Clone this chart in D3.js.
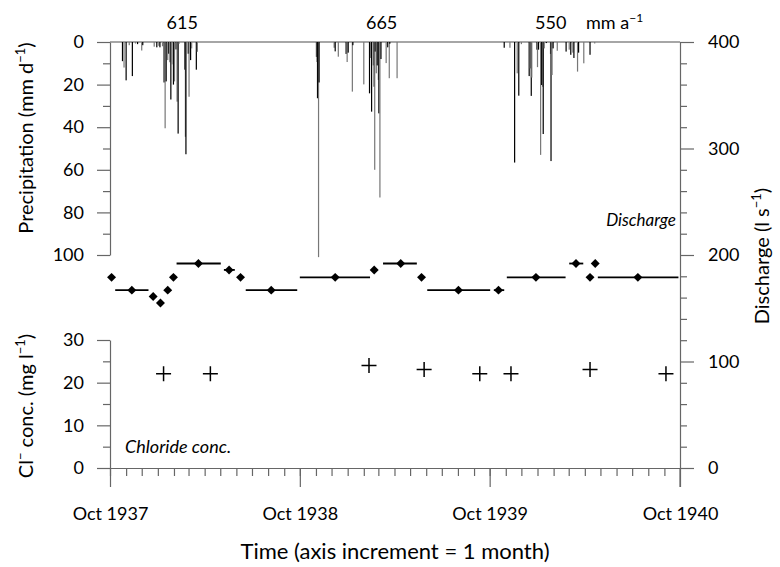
<!DOCTYPE html>
<html><head><meta charset="utf-8">
<script src="https://cdn.jsdelivr.net/npm/d3@7"></script>
<style>body{margin:0;background:#fff}svg{display:block}text{font-family:Lato,"Open Sans",sans-serif}</style>
</head><body><svg id="c" width="780" height="567"></svg>
<script>
// ---- data (days counted from 1 Oct 1937) ----
const precipDay = [24,27,31,37,43,49,53,61,63,85,90,94,96,101,104,106,108,111,113,115,117,119,122,124,127,129,131,133,144,145,146,148,151,152,155,157,166,168,
  397,398,399,401,402,431,433,439,454,456,458,466,467,488,499,501,503,506,508,509,510,512,514,516,517,519,521,531,534,537,538,552,
  758,769,778,783,786,791,806,808,810,811,821,822,824,828,830,832,833,835,839,847,848,850,852,860,877,883,886,890,892,899,901,911,923,932];
const precipMM = [9,12,18,1.5,16,0.7,1,4,1.5,2.2,2.5,1.8,2.5,2,19,40.5,18.5,8.5,5.5,9.5,27,10.5,20,18.5,3.5,28,43,0.8,13,44.5,52.7,5.5,5.5,25.7,8.5,3,13,4.6,
  7,9.4,26.4,101,19,2.7,4.4,6.9,5.6,9.4,5,23.3,1.5,19.9,24.1,7.5,32.7,11,21,60,4.5,14.7,11,17.8,33.5,73,8,9.9,2.5,17,0.8,17,
  2.7,2.7,56.6,14.7,25.2,1,16,12.4,25.3,16.7,3.6,11.8,3.6,53,20.2,21,43.2,3,0.5,5.6,55.9,15.5,3,4.1,4.5,3.6,6,5,7.5,13.9,5,10,6,0.7];

const dischargeDay   = [3,42,83,97,111,122,170,229,251,310,433,508,559,599,670,747,819,896,923,933,1015];
const dischargeValue = [179,167,161,155,167,179,192,186,179,167,179,186,192,179,167,167,179,192,179,192,179];
const periodStart    = [null,10,null,null,null,null,128,219,null,261,365,null,525,null,610,738,763,883,null,null,938];
const periodEnd      = [null,74,null,null,null,null,213,240,null,360,500,null,590,null,731,758,876,910,null,null,1093];

const chlorideDay   = [103,193,498,604,711,771,923,1069];
const chlorideValue = [22.1,22.1,24,23.1,22.1,22.1,23.1,22.1];

const annualTotals = ["615","665","550"];
const annualMid    = [1937.75+0.38, 1938.75+0.43, 1939.75+0.32];
const precipTicks = [0,20,40,60,80,100], precipMinor=[10,30,50,70,90];
const dischargeTicks = [0,100,200,300,400];
const chlorideTicks = [0,10,20,30], chlorideMinor=[5,15,25];
const yearTicks = [1937,1938,1939,1940];

// ---- layout ----
const svg = d3.select("#c");
const L=110, R=680, T=42;
const start = new Date(1937,9,1), end = new Date(1940,9,1);
const x = d3.scaleTime().domain([start,end]).range([L,R]);
const day = d => d3.timeDay.offset(start, d);
const yP = d3.scaleLinear().domain([0,100]).range([T,255]);
const yQ = d3.scaleLinear().domain([0,400]).range([468,T]);
const yC = d3.scaleLinear().domain([0,30]).range([468,340]);
const axisCol="#666";
const FS = 18;

function styleAxis(g, fs){
  g.selectAll(".domain").attr("stroke",axisCol).attr("stroke-width",1.2);
  g.selectAll(".tick line").attr("stroke",axisCol).attr("stroke-width",1.2);
  g.selectAll("text").attr("fill","#000").style("font-size",(fs||FS)+"px").style("font-family","Lato");
}

// top frame line
svg.append("line").attr("x1",L).attr("x2",R).attr("y1",T).attr("y2",T).attr("stroke","#888").attr("stroke-width",1.3);

// precipitation bars
svg.append("g").selectAll("rect").data(precipDay).join("rect")
  .attr("x",(d)=>x(day(d))-0.6).attr("width",1.2)
  .attr("y",T).attr("height",(d,i)=>yP(precipMM[i])-T)
  .attr("fill",(d,i)=> i%2 ? "#777" : "#000");

// left precip axis
let g = svg.append("g").attr("transform",`translate(${L},0)`)
  .call(d3.axisLeft(yP).tickValues(precipTicks).tickSize(13).tickSizeOuter(0).tickPadding(13));
styleAxis(g);
g = svg.append("g").attr("transform",`translate(${L},0)`)
  .call(d3.axisLeft(yP).tickValues(precipMinor).tickSize(7).tickFormat(""));
g.select(".domain").remove(); styleAxis(g);

// chloride axis
g = svg.append("g").attr("transform",`translate(${L},0)`)
  .call(d3.axisLeft(yC).tickValues(chlorideTicks).tickSize(13).tickSizeOuter(0).tickPadding(13));
styleAxis(g);
g = svg.append("g").attr("transform",`translate(${L},0)`)
  .call(d3.axisLeft(yC).tickValues(chlorideMinor).tickSize(7).tickFormat(""));
g.select(".domain").remove(); styleAxis(g);

// right discharge axis
g = svg.append("g").attr("transform",`translate(${R},0)`)
  .call(d3.axisRight(yQ).tickValues(dischargeTicks).tickSize(14).tickSizeOuter(0).tickPadding(14));
styleAxis(g);
g = svg.append("g").attr("transform",`translate(${R},0)`)
  .call(d3.axisRight(yQ).tickValues(d3.range(20,400,20).filter(v=>v%100)).tickSize(7).tickFormat(""));
g.select(".domain").remove(); styleAxis(g);
svg.append("line").attr("x1",R).attr("x2",R).attr("y1",468).attr("y2",487).attr("stroke",axisCol).attr("stroke-width",1.2);

// bottom time axis
g = svg.append("g").attr("transform",`translate(0,468)`)
  .call(d3.axisBottom(x).tickValues(d3.timeMonth.range(start,end)).tickSize(8).tickSizeOuter(0).tickFormat(""));
styleAxis(g);
g = svg.append("g").attr("transform",`translate(0,468)`)
  .call(d3.axisBottom(x).tickValues(yearTicks.map(yy=>new Date(yy,9,1))).tickSize(19).tickPadding(20)
    .tickFormat(d=>"Oct "+d.getFullYear()));
g.select(".domain").remove(); styleAxis(g,FS);

// discharge periods and points
svg.append("g").selectAll("line").data(dischargeDay.map((d,i)=>i).filter(i=>periodStart[i]!==null)).join("line")
  .attr("x1",i=>x(day(periodStart[i]))).attr("x2",i=>x(day(periodEnd[i])))
  .attr("y1",i=>yQ(dischargeValue[i])).attr("y2",i=>yQ(dischargeValue[i]))
  .attr("stroke","#000").attr("stroke-width",1.8);
const diamond = d3.symbol(d3.symbolSquare, 40);
svg.append("g").selectAll("path").data(dischargeDay).join("path")
  .attr("d",diamond())
  .attr("transform",(d,i)=>`translate(${x(day(d))},${yQ(dischargeValue[i])}) rotate(45)`)
  .attr("fill","#000");

// chloride crosses
svg.append("g").selectAll("path").data(chlorideDay).join("path")
  .attr("d","M-7.5,0H7.5M0,-7.5V7.5")
  .attr("transform",(d,i)=>`translate(${x(day(d))},${yC(chlorideValue[i])})`)
  .attr("stroke","#000").attr("stroke-width",1.5).attr("fill","none");

// annual totals
const xYear = v => x(new Date(start.getTime() + (v-1937.75)*365.25*864e5));
svg.append("g").selectAll("text").data(annualTotals).join("text")
  .attr("x",(d,i)=>xYear(annualMid[i])).attr("y",29).attr("text-anchor","middle")
  .style("font-size",FS+"px").text(d=>d);
let t = svg.append("text").attr("x",586).attr("y",29).style("font-size",FS+"px");
t.append("tspan").text("mm a");
t.append("tspan").attr("dy",-7).style("font-size","12px").text("\u22121");

// labels
svg.append("text").attr("x",676).attr("y",226).attr("text-anchor","end").style("font-style","italic").style("font-size","17px").text("Discharge");
svg.append("text").attr("x",125).attr("y",453).style("font-style","italic").style("font-size","18px").text("Chloride conc.");

function vlabel(cx, cy, parts){
  const tt = svg.append("text").attr("transform",`translate(${cx},${cy}) rotate(-90)`).attr("text-anchor","middle").style("font-size","20px");
  let raised=false;
  parts.forEach(p=>{
    const sup = p[1]===true;
    const s = tt.append("tspan").text(p[0]).style("font-size", sup ? "13px" : "20px");
    if(sup && !raised){ s.attr("dy",-8); raised=true; }
    else if(!sup && raised){ s.attr("dy",8); raised=false; }
  });
  return tt;
}
vlabel(33,138,[["Precipitation (mm d"],["\u22121",true],[")"]]);
vlabel(33,406,[["Cl"],["\u2212",true],[" conc. (mg l"],["\u22121",true],[")"]]);
vlabel(769,256,[["Discharge (l s"],["\u22121",true],[")"]]);
svg.append("text").attr("x",395).attr("y",559).attr("text-anchor","middle").style("font-size","22px").text("Time (axis increment = 1 month)");
</script></body></html>
